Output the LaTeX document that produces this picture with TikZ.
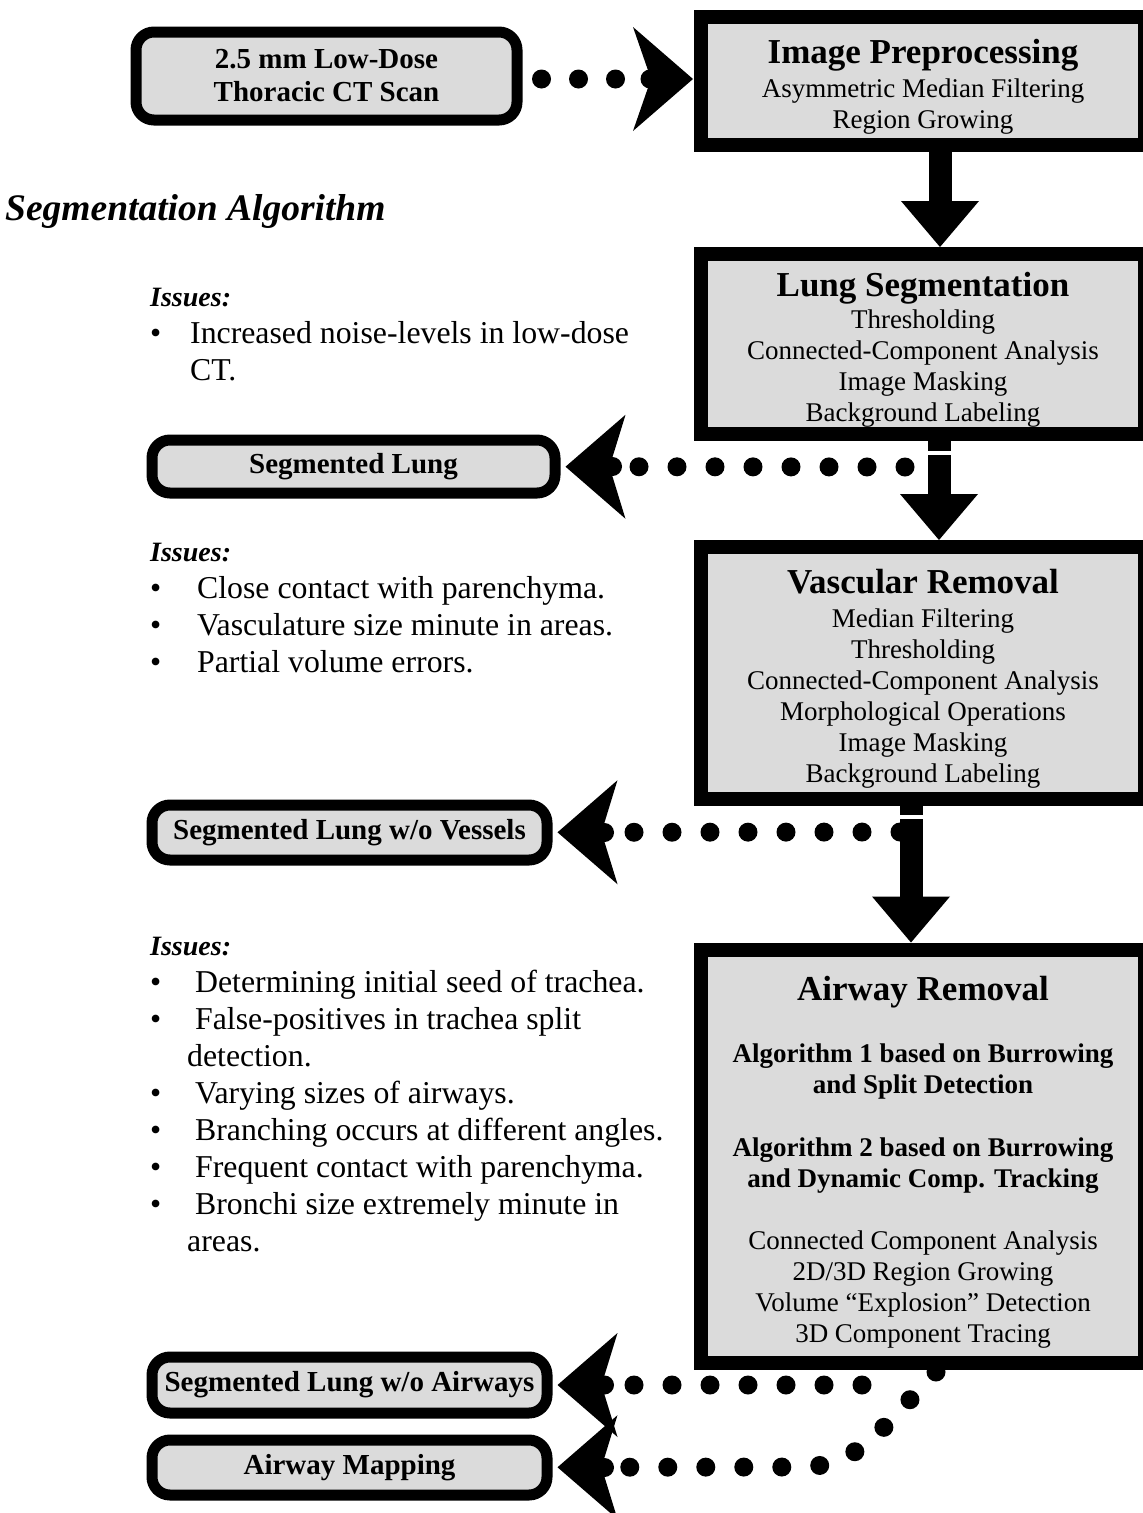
\documentclass[tikz,border=0pt]{standalone}
\usepackage{fontspec}
\setmainfont{Liberation Serif}
\usetikzlibrary{arrows.meta}

\newcommand{\stagetitle}[1]{{\fontsize{35}{36}\selectfont\bfseries\rule{0pt}{36pt}#1}}
\newcommand{\algline}[1]{{\bfseries #1}}

\tikzset{
  stagebox/.style={draw, line width=14pt, fill=black!14, minimum width=444pt,
    align=center, font=\fontsize{27}{31}\selectfont},
  databox/.style={draw, line width=11pt, rounded corners=18pt, fill=black!14,
    align=center, font=\fontsize{29}{33}\selectfont\bfseries},
  issuetext/.style={inner sep=0pt, anchor=base west, font=\fontsize{31.8}{37}\selectfont},
  dotleft/.style={line width=19pt, line cap=round, dash pattern=on 0pt off 38pt, shorten >=5pt,
    -{Stealth[length=60pt,width=104pt,inset=16pt,line width=0pt]}},
  dotright/.style={line width=19pt, line cap=round, dash pattern=on 0pt off 37pt, shorten >=1pt,
    -{Stealth[length=60pt,width=104pt,inset=18pt,line width=0pt]}},
  fatarrow/.style={line width=23pt, -{Triangle[length=46pt,width=78pt,line width=0pt]}},
}

\begin{document}
\begin{tikzpicture}[x=1pt,y=-1pt]
    \useasboundingbox (0,0) rectangle (1143,1513);
    \clip (0,0) rectangle (1143,1513);

    % processing stages (right column)
    \node[stagebox, minimum height=128pt] (prep) at (923,81)
        {\stagetitle{Image Preprocessing}\\[3pt] Asymmetric Median Filtering\\ Region Growing};
    \node[stagebox, minimum height=180pt] (lungseg) at (923,344)
        {\stagetitle{Lung Segmentation}\\[1pt] Thresholding\\ Connected-Component Analysis\\
         Image Masking\\ Background Labeling};
    \node[stagebox, minimum height=252pt] (vascular) at (923,673)
        {\stagetitle{Vascular Removal}\\[3pt] Median Filtering\\ Thresholding\\
         Connected-Component Analysis\\ Morphological Operations\\ Image Masking\\ Background Labeling};
    \node[stagebox, minimum height=413pt] (airway) at (923,1156)
        {\stagetitle{Airway Removal}\\[31pt]
         \algline{Algorithm 1 based on Burrowing}\\ \algline{and Split Detection}\\[32pt]
         \algline{Algorithm 2 based on Burrowing}\\ \algline{and Dynamic Comp. Tracking}\\[31pt]
         Connected Component Analysis\\ 2D/3D Region Growing\\
         Volume ``Explosion'' Detection\\ 3D Component Tracing};

    % input and outputs (left column)
    \node[databox, minimum width=381pt, minimum height=88pt] (ct) at (326.5,76)
        {2.5 mm Low-Dose\\ Thoracic CT Scan};
    \node[databox, minimum width=403pt, minimum height=53pt] (lung) at (353.5,466.5) {Segmented Lung};
    \node[databox, minimum width=395pt, minimum height=55pt] (novessel) at (349.5,832.5)
        {Segmented Lung w/o Vessels};
    \node[databox, minimum width=395pt, minimum height=56pt] (noairway) at (349.5,1385)
        {Segmented Lung w/o Airways};
    \node[databox, minimum width=395pt, minimum height=55pt] (airmap) at (349.5,1467.5) {Airway Mapping};

    % headings and issue lists
    \node[inner sep=0pt, anchor=base west, font=\fontsize{37.5}{40}\selectfont\bfseries\itshape] (heading)
        at (5,220) {Segmentation Algorithm};
    \node[issuetext] (issues1) at (150,306) {\begin{tabular}[t]{@{}p{40pt}@{}l@{}}
        \multicolumn{2}{@{}l@{}}{\fontsize{28}{37}\selectfont\bfseries\itshape Issues:}\\
        \textbullet & Increased noise-levels in low-dose\\
                    & CT.
        \end{tabular}};
    \node[issuetext] (issues2) at (150,561) {\begin{tabular}[t]{@{}p{47pt}@{}l@{}}
        \multicolumn{2}{@{}l@{}}{\fontsize{28}{37}\selectfont\bfseries\itshape Issues:}\\
        \textbullet & Close contact with parenchyma.\\
        \textbullet & Vasculature size minute in areas.\\
        \textbullet & Partial volume errors.
        \end{tabular}};
    \node[issuetext] (issues3) at (150,955) {\begin{tabular}[t]{@{}p{37pt}@{}l@{}}
        \multicolumn{2}{@{}l@{}}{\fontsize{28}{37}\selectfont\bfseries\itshape Issues:}\\
        \textbullet & \ Determining initial seed of trachea.\\
        \textbullet & \ False-positives in trachea split\\
                    & detection.\\
        \textbullet & \ Varying sizes of airways.\\
        \textbullet & \ Branching occurs at different angles.\\
        \textbullet & \ Frequent contact with parenchyma.\\
        \textbullet & \ Bronchi size extremely minute in\\
                    & areas.
        \end{tabular}};

    % flow between stages
    \draw[fatarrow] ([xshift=17pt]prep.south) -- ([xshift=17pt]lungseg.north);
    \draw[fatarrow] ([xshift=16pt]lungseg.south) -- ([xshift=16pt]vascular.north);
    \draw[fatarrow] ([xshift=-12pt]vascular.south) -- ([xshift=-12pt]airway.north);
    \draw[white, line width=4pt] (928,453) -- (951,453);
    \draw[white, line width=4pt] (899,817) -- (923,817);

    % dotted links to the data boxes
    \coordinate (ctout) at ([xshift=19pt,yshift=-3pt]ct.east);
    \draw[dotright] (ctout) -- (prep.west |- ctout);
    \fill ([xshift=-44pt]prep.west |- ctout) circle (9.5pt);
    \coordinate (lungout) at (905,467);
    \draw[dotleft] (lungout) -- (lung);
    \coordinate (vesselout) at (900,832);
    \draw[dotleft] (vesselout) -- (novessel);
    \coordinate (airwayout) at (862,1385);
    \draw[dotleft] (airwayout) -- (noairway);
    \coordinate (mapout) at (936,1372);
    \draw[dotleft] (mapout) .. controls (878,1432) and (858,1467) .. (800,1467) -- (airmap);
    \foreach \target in {lung,novessel,noairway,airmap}
        \fill ([xshift=52pt]\target.east) circle (9.5pt);
\end{tikzpicture}
\end{document}
